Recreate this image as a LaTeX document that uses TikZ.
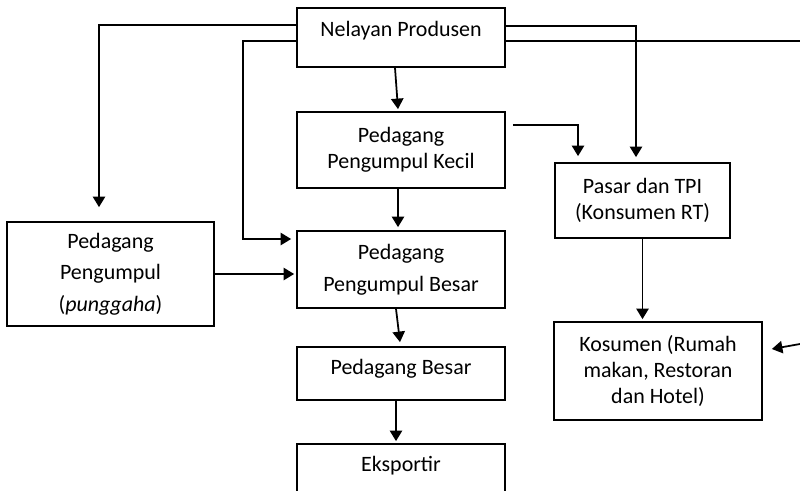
\documentclass[tikz,border=0pt]{standalone}
\usepackage{fontspec}
\setmainfont{Carlito}
\usetikzlibrary{arrows.meta}
\begin{document}
\begin{tikzpicture}[x=0.02cm, y=-0.02cm,
    box/.style={rectangle, draw, line width=1pt, align=center, inner sep=0pt,
      font=\fontsize{12.5}{14.6}\selectfont},
    wide/.style={font=\fontsize{12.5}{18}\selectfont},
    arr/.style={line width=1pt, -{Triangle[length=6pt,width=7pt]}}]
  \clip (0,0) rectangle (800,490);
  \node[box, minimum width=4.16cm, minimum height=1.18cm, text depth=9.5pt] (nelayan) at (401,37.5) {Nelayan Produsen};
  \node[box, minimum width=4.16cm, minimum height=1.52cm] (kecil) at (401,150) {Pedagang\\Pengumpul Kecil};
  \node[box, wide, minimum width=4.16cm, minimum height=1.54cm] (besar) at (401,269.5) {Pedagang\\Pengumpul Besar};
  \node[box, wide, minimum width=4.14cm, minimum height=2.08cm] (pengumpul) at (110.5,274) {Pedagang\\Pengumpul\\(\textit{punggaha})};
  \node[box, minimum width=3.5cm, minimum height=1.5cm] (pasar) at (642.5,200.5) {Pasar dan TPI\\(Konsumen RT)};
  \node[box, minimum width=4.16cm, minimum height=1.96cm] (kosumen) at (658,371) {Kosumen (Rumah\\makan, Restoran\\dan Hotel)};
  \node[box, minimum width=4.16cm, minimum height=1.06cm, text depth=7.2pt] (pbesar) at (401,373.5) {Pedagang Besar};
  \node[box, minimum width=4.16cm, minimum height=1.06cm, text depth=7.2pt] (ekspor) at (401,470.5) {Eksportir};
  \coordinate (out1) at (800,41);
  \coordinate (in1) at (800,344);
  % dari nelayan
  \draw[arr] ([yshift=0.25cm]nelayan.west) -| ([xshift=-0.23cm,yshift=0.28cm]pengumpul.north);
  \draw[arr] ([yshift=-0.07cm]nelayan.west) -- ++(-53,0) |- ([xshift=-0.1cm,yshift=0.61cm]besar.west);
  \draw[arr] ([xshift=-0.12cm]nelayan.south) -- ([xshift=-0.06cm,yshift=0.04cm]kecil.north);
  \draw[arr] ([yshift=0.23cm]nelayan.east) -| ([xshift=-0.13cm,yshift=0.1cm]pasar.north);
  \draw[line width=1pt] ([yshift=-0.07cm]nelayan.east) -- (out1);
  % pedagang
  \draw[arr] ([xshift=0.14cm,yshift=0.5cm]kecil.east) -| ([xshift=-1.29cm,yshift=0.12cm]pasar.north);
  \draw[arr] ([xshift=-0.06cm]kecil.south) -- ([xshift=-0.06cm,yshift=0.06cm]besar.north);
  \draw[arr, shorten >=0.04cm] (pengumpul.east) -- (pengumpul.east -| besar.west);
  \draw[arr] ([xshift=-0.1cm]besar.south) -- ([xshift=-0.02cm,yshift=0.08cm]pbesar.north);
  \draw[arr] ([xshift=-0.1cm]pbesar.south) -- ([xshift=-0.1cm,yshift=0.04cm]ekspor.north);
  % konsumen
  \draw[arr, shorten >=0.04cm] (pasar.south) -- (pasar.south |- kosumen.north);
  \draw[arr] (in1) -- ([xshift=0.18cm,yshift=0.44cm]kosumen.east);
\end{tikzpicture}
\end{document}
